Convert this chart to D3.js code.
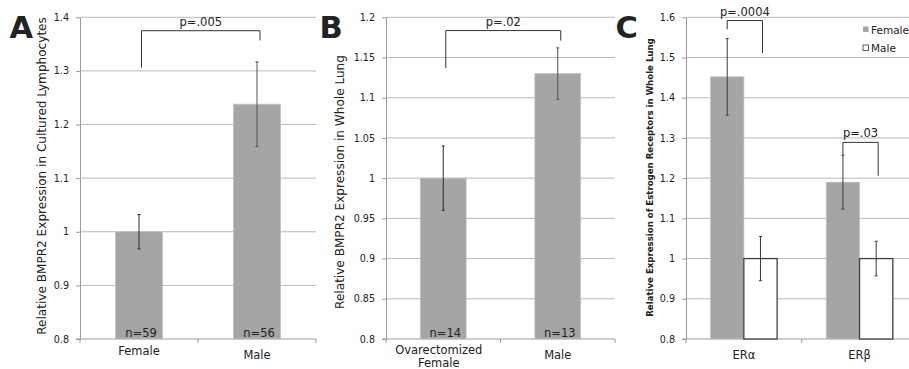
<!DOCTYPE html>
<html><head><meta charset="utf-8">
<script src="https://cdn.jsdelivr.net/npm/d3@7"></script>
<style>body{margin:0;background:#fff}svg{display:block}text{font-family:"DejaVu Sans",Verdana,sans-serif;fill:#222}</style>
</head><body><svg id="c" width="909" height="369"></svg>
<script>
// ---------- DATA ----------
const aCategories = ["Female", "Male"];
const aValues = [1.0, 1.238];
const aErrors = [0.032, 0.079];
const aN = ["n=59", "n=56"];
const aTicks = [0.8, 0.9, 1.0, 1.1, 1.2, 1.3, 1.4];
const aTickLabels = ["0.8", "0.9", "1", "1.1", "1.2", "1.3", "1.4"];
const aTitle = "Relative BMPR2 Expression in Cultured Lymphocytes";
const aP = ["p=.005"];

const bCategories = ["Ovarectomized Female", "Male"];
const bCategoryLines = [["Ovarectomized", "Female"], ["Male"]];
const bValues = [1.0, 1.13];
const bErrors = [0.04, 0.032];
const bN = ["n=14", "n=13"];
const bTicks = [0.8, 0.85, 0.9, 0.95, 1.0, 1.05, 1.1, 1.15, 1.2];
const bTickLabels = ["0.8", "0.85", "0.9", "0.95", "1", "1.05", "1.1", "1.15", "1.2"];
const bTitle = "Relative BMPR2 Expression in Whole Lung";
const bP = ["p=.02"];

const cCategories = ["ERα", "ERβ"];
const cSeries = ["Female", "Male"];
const cFemale = [1.452, 1.19];
const cFemaleErr = [0.095, 0.067];
const cMale = [1.0, 1.0];
const cMaleErr = [0.055, 0.043];
const cTicks = [0.8, 0.9, 1.0, 1.1, 1.2, 1.3, 1.4, 1.5, 1.6];
const cTickLabels = ["0.8", "0.9", "1", "1.1", "1.2", "1.3", "1.4", "1.5", "1.6"];
const cTitle = "Relative Expression of Estrogen Receptors in Whole Lung";
const cP = ["p=.0004", "p=.03"];

// bracket annotations: [top value, left-end value, right-end value]
const aBracket = [[1.375, 1.306, 1.357]];
const bBracket = [[1.1835, 1.137, 1.171]];
const cBracket = [[1.592, 1.570, 1.511], [1.289, 1.258, 1.206]];

// ---------- DRAW ----------
const svg = d3.select("#c");
const TOP = 17.3, BOT = 339;
const GRID = "#b9b9b9", AXIS = "#9c9c9c", BAR = "#a5a5a5", ERR = "#3a3a3a";

function fitText(sel, target) {
  const n = sel.node();
  const len = n.getComputedTextLength();
  const fs = parseFloat(sel.attr("font-size"));
  sel.attr("font-size", (fs * target / len).toFixed(2));
}

function frame(o) {
  const y = d3.scaleLinear().domain([o.ticks[0], o.ticks[o.ticks.length - 1]]).range([BOT, TOP]);
  const x = d3.scaleBand().domain(o.categories).range([o.x0, o.x1]);
  const g = svg.append("g");
  g.selectAll("line.grid").data(o.ticks.slice(1)).join("line")
    .attr("x1", o.x0).attr("x2", o.x1).attr("y1", d => y(d)).attr("y2", d => y(d))
    .attr("stroke", GRID).attr("stroke-width", 1);
  const ax = d3.axisLeft(y).tickValues(o.ticks).tickFormat((d, i) => o.tickLabels[i])
    .tickSizeInner(4).tickSizeOuter(0).tickPadding(7);
  const ga = g.append("g").attr("transform", `translate(${o.x0},0)`).call(ax);
  ga.select(".domain").attr("stroke", AXIS);
  ga.selectAll(".tick line").attr("stroke", AXIS);
  ga.selectAll(".tick text").attr("font-size", 9.6).attr("fill", "#333")
    .attr("font-family", "DejaVu Sans");
  g.append("line").attr("x1", o.x0 - 4).attr("x2", o.x1).attr("y1", BOT).attr("y2", BOT).attr("stroke", AXIS);
  const bounds = o.categories.map(c => x(c)).concat([x.range()[1]]);
  g.selectAll("line.xt").data(bounds).join("line")
    .attr("x1", d => d).attr("x2", d => d).attr("y1", BOT).attr("y2", BOT + 4).attr("stroke", AXIS);
  const cy = (o.titleTop + o.titleBot) / 2;
  const t = g.append("text").attr("transform", `translate(${o.titleX},${cy}) rotate(-90)`)
    .attr("text-anchor", "middle").attr("font-size", o.titleBold ? 9 : 11.5)
    .attr("font-weight", o.titleBold ? "bold" : "normal").attr("fill", "#222").text(o.title);
  fitText(t, o.titleBot - o.titleTop);
  g.append("text").attr("x", o.letterX).attr("y", 38.3).attr("font-size", 30.5)
    .attr("font-weight", "bold").attr("font-family", "Liberation Sans, Arial, sans-serif")
    .attr("fill", "#000").text(o.letter);
  return {x, y, g};
}

function bracket(g, y, xl, xr, b, label) {
  g.append("path").attr("fill", "none").attr("stroke", "#333").attr("stroke-width", 1)
    .attr("d", `M${xl},${y(b[1])}V${y(b[0])}H${xr}V${y(b[2])}`);
  g.append("text").attr("x", (xl + xr) / 2).attr("y", y(b[0]) - 5).attr("text-anchor", "middle")
    .attr("font-size", 11.5).text(label);
}

function errBar(g, cx, y, v, e, color) {
  const top = y(v + e), bot = y(v - e);
  g.append("line").attr("x1", cx).attr("x2", cx).attr("y1", top).attr("y2", bot).attr("stroke", color);
  [top, bot].forEach(yy => g.append("line").attr("x1", cx - 1.5).attr("x2", cx + 1.5)
    .attr("y1", yy).attr("y2", yy).attr("stroke", color));
}

function simplePanel(o) {
  const {x, y, g} = frame(o);
  const bw = x.bandwidth() * 0.4;
  const cxs = o.categories.map(c => x(c) + x.bandwidth() / 2);
  g.selectAll("rect.bar").data(o.values).join("rect")
    .attr("x", (d, i) => cxs[i] - bw / 2).attr("width", bw)
    .attr("y", d => y(d)).attr("height", d => BOT - y(d))
    .attr("fill", BAR).attr("stroke", "#c2c2c2").attr("stroke-width", 0.8);
  o.values.forEach((v, i) => errBar(g, cxs[i], y, v, o.errors[i], i === 0 ? "#2a2a2a" : "#505050"));
  g.selectAll("text.n").data(o.n).join("text")
    .attr("x", (d, i) => cxs[i] + 2).attr("y", 336.5).attr("text-anchor", "middle")
    .attr("font-size", 11.5).text(d => d);
  o.labelLines.forEach((lines, i) => {
    lines.forEach((ln, j) => g.append("text").attr("x", cxs[i] + (o.labelDx[i] || 0))
      .attr("y", o.labelY[i] + j * 13).attr("text-anchor", "middle").attr("font-size", 11.5).text(ln));
  });
  o.brackets.forEach((b, i) => bracket(g, y, cxs[0] + 2.5, cxs[1] + 3, b, o.p[i]));
}

simplePanel({
  x0: 80, x1: 316, ticks: aTicks, tickLabels: aTickLabels, categories: aCategories,
  values: aValues, errors: aErrors, n: aN, labelLines: aCategories.map(d => [d]),
  labelY: [354.5, 358.8], labelDx: [0, 0], brackets: aBracket, p: aP,
  title: aTitle, titleX: 45.5, titleTop: 17, titleBot: 335, letter: "A", letterX: 9.5
});
simplePanel({
  x0: 386, x1: 615, ticks: bTicks, tickLabels: bTickLabels, categories: bCategories,
  values: bValues, errors: bErrors, n: bN, labelLines: bCategoryLines,
  labelY: [353.5, 358.8], labelDx: [-4.5, 0], brackets: bBracket, p: bP,
  title: bTitle, titleX: 343.5, titleTop: 55, titleBot: 309, letter: "B", letterX: 319.5
});

// panel C grouped
(function () {
  const o = {x0: 686, x1: 917.4, ticks: cTicks, tickLabels: cTickLabels, categories: cCategories,
    title: cTitle, titleBold: true, titleX: 652.5, titleTop: 38, titleBot: 317, letter: "C", letterX: 615.5};
  const {x, y, g} = frame(o);
  const gw = x.bandwidth() * 0.575;
  const xs = d3.scaleBand().domain(cSeries).range([0, gw]);
  const vals = {Female: cFemale, Male: cMale};
  const errs = {Female: cFemaleErr, Male: cMaleErr};
  const centers = {};
  cSeries.forEach(s => {
    centers[s] = cCategories.map(c => x(c) + (x.bandwidth() - gw) / 2 + xs(s) + xs.bandwidth() / 2);
    g.selectAll("rect.b" + s).data(vals[s]).join("rect")
      .attr("x", (d, i) => centers[s][i] - xs.bandwidth() / 2).attr("width", xs.bandwidth())
      .attr("y", d => y(d)).attr("height", d => BOT - y(d))
      .attr("fill", s === "Female" ? BAR : "#fff")
      .attr("stroke", s === "Female" ? "#c2c2c2" : "#404040")
      .attr("stroke-width", s === "Female" ? 0.8 : 1.3);
  });
  cSeries.forEach(s => vals[s].forEach((v, i) => errBar(g, centers[s][i], y, v, errs[s][i], ERR)));
  g.selectAll("text.cat").data(cCategories).join("text")
    .attr("x", d => x(d) + x.bandwidth() / 2).attr("y", 359).attr("text-anchor", "middle")
    .attr("font-size", 11.5).text(d => d);
  cBracket.forEach((b, i) => bracket(g, y, centers.Female[i], centers.Male[i] + 2, b, cP[i]));
  const lg = svg.append("g");
  cSeries.forEach((s, i) => {
    lg.append("rect").attr("x", 863).attr("y", 26.5 + i * 18.5).attr("width", 5.5).attr("height", 5.5)
      .attr("fill", s === "Female" ? BAR : "#fff").attr("stroke", s === "Female" ? "none" : "#333")
      .attr("stroke-width", 0.8);
    lg.append("text").attr("x", 871).attr("y", 33.5 + i * 18.5).attr("font-size", 10.5).text(s);
  });
})();
</script></body></html>
